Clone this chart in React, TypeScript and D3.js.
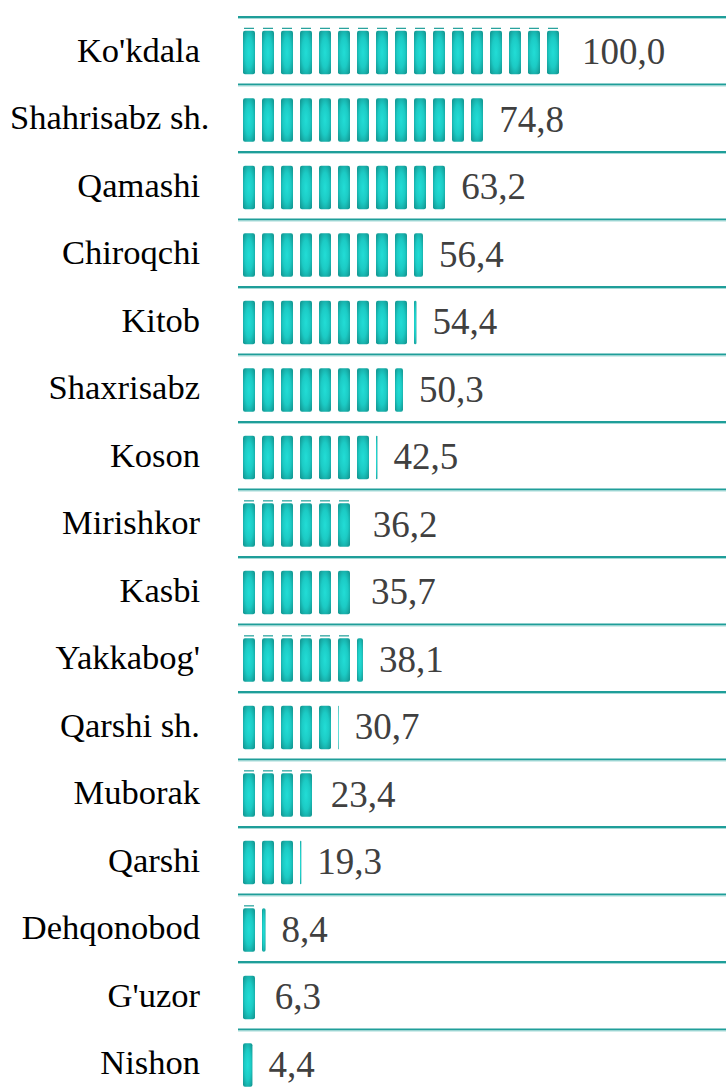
import React, { useLayoutEffect, useRef, useState } from "react";
import * as d3 from "d3";

const categories = [
  "Ko'kdala", "Shahrisabz sh.", "Qamashi", "Chiroqchi", "Kitob", "Shaxrisabz",
  "Koson", "Mirishkor", "Kasbi", "Yakkabog'", "Qarshi sh.", "Muborak",
  "Qarshi", "Dehqonobod", "G'uzor", "Nishon",
];
const values = [100.0, 74.8, 63.2, 56.4, 54.4, 50.3, 42.5, 36.2, 35.7, 38.1, 30.7, 23.4, 19.3, 8.4, 6.3, 4.4];
// rows where the stacked picture shows its thin top edge
const edgeRows = ["Ko'kdala", "Mirishkor", "Yakkabog'", "Muborak", "Dehqonobod"];

const W = 726;
const H = 1091;
const FONT = "Liberation Serif, Times New Roman, serif";
const fmt = (v: number) => v.toFixed(1).replace(".", ",");

export default function App() {
  const x = d3.scaleLinear().domain([0, 100]).range([238, 566]);
  const y = d3.scaleBand<string>().domain(categories).range([17, 17 + 16 * 67.5]);
  const bw = y.bandwidth();
  const TILE = 19, OFF = 5, SEG = 12;
  const gridYs = categories.map((c) => y(c)!).concat([y(categories[categories.length - 1])! + bw]);

  const labelRefs = useRef<(SVGTextElement | null)[]>([]);
  const [labelX, setLabelX] = useState<number[]>(categories.map(() => 200));
  useLayoutEffect(() => {
    const xs = labelRefs.current.map((el) => {
      const len = el ? el.getComputedTextLength() : 0;
      return Math.max(200, 10 + len);
    });
    setLabelX(xs);
  }, []);

  return (
    <svg width={W} height={H} style={{ position: "absolute", left: 0, top: 0, background: "#fff" }}>
      <defs>
        <radialGradient id="seg" cx="0.5" cy="0.5" r="0.62">
          <stop offset="0" stopColor="#22ddd6" />
          <stop offset="0.55" stopColor="#1ccbc5" />
          <stop offset="1" stopColor="#149c97" />
        </radialGradient>
      </defs>
      {gridYs.map((gy, i) => (
        <g key={"g" + i}>
          <line x1={238} x2={W} y1={gy} y2={gy} stroke="#1f9e99" strokeWidth={2} />
          <line x1={238} x2={W} y1={gy + 1.5} y2={gy + 1.5} stroke="#a6dbd8" strokeWidth={1} />
        </g>
      ))}
      {categories.map((c, ri) => {
        const v = values[ri];
        const top = y(c)! + 13.75;
        const end = x(v);
        const n = Math.ceil((end - x(0)) / TILE);
        const segs = [];
        for (let i = 0; i < n; i++) {
          const sx = x(0) + TILE * i + OFF;
          const w = Math.min(SEG, end - sx);
          if (w <= 0.3) continue;
          segs.push(
            <g key={i}>
              {edgeRows.includes(c) && w >= SEG - 1 && (
                <rect x={sx + 1} y={top - 3} width={w - 2} height={1.2} fill="#1f9e99" />
              )}
              <rect x={sx} y={top} width={w} height={43.5} rx={Math.min(2, w / 2)} fill="url(#seg)" />
            </g>
          );
        }
        const cy = y(c)! + bw / 2;
        return (
          <g key={c}>
            {segs}
            <text ref={(el) => { labelRefs.current[ri] = el; }} x={labelX[ri]} y={cy + 11} textAnchor="end"
              fontSize={34.5} fill="#000" fontFamily={FONT}>{c}</text>
            <text x={end + 16} y={cy + 13.5} fontSize={37} fill="#404040" fontFamily={FONT}>{fmt(v)}</text>
          </g>
        );
      })}
    </svg>
  );
}
